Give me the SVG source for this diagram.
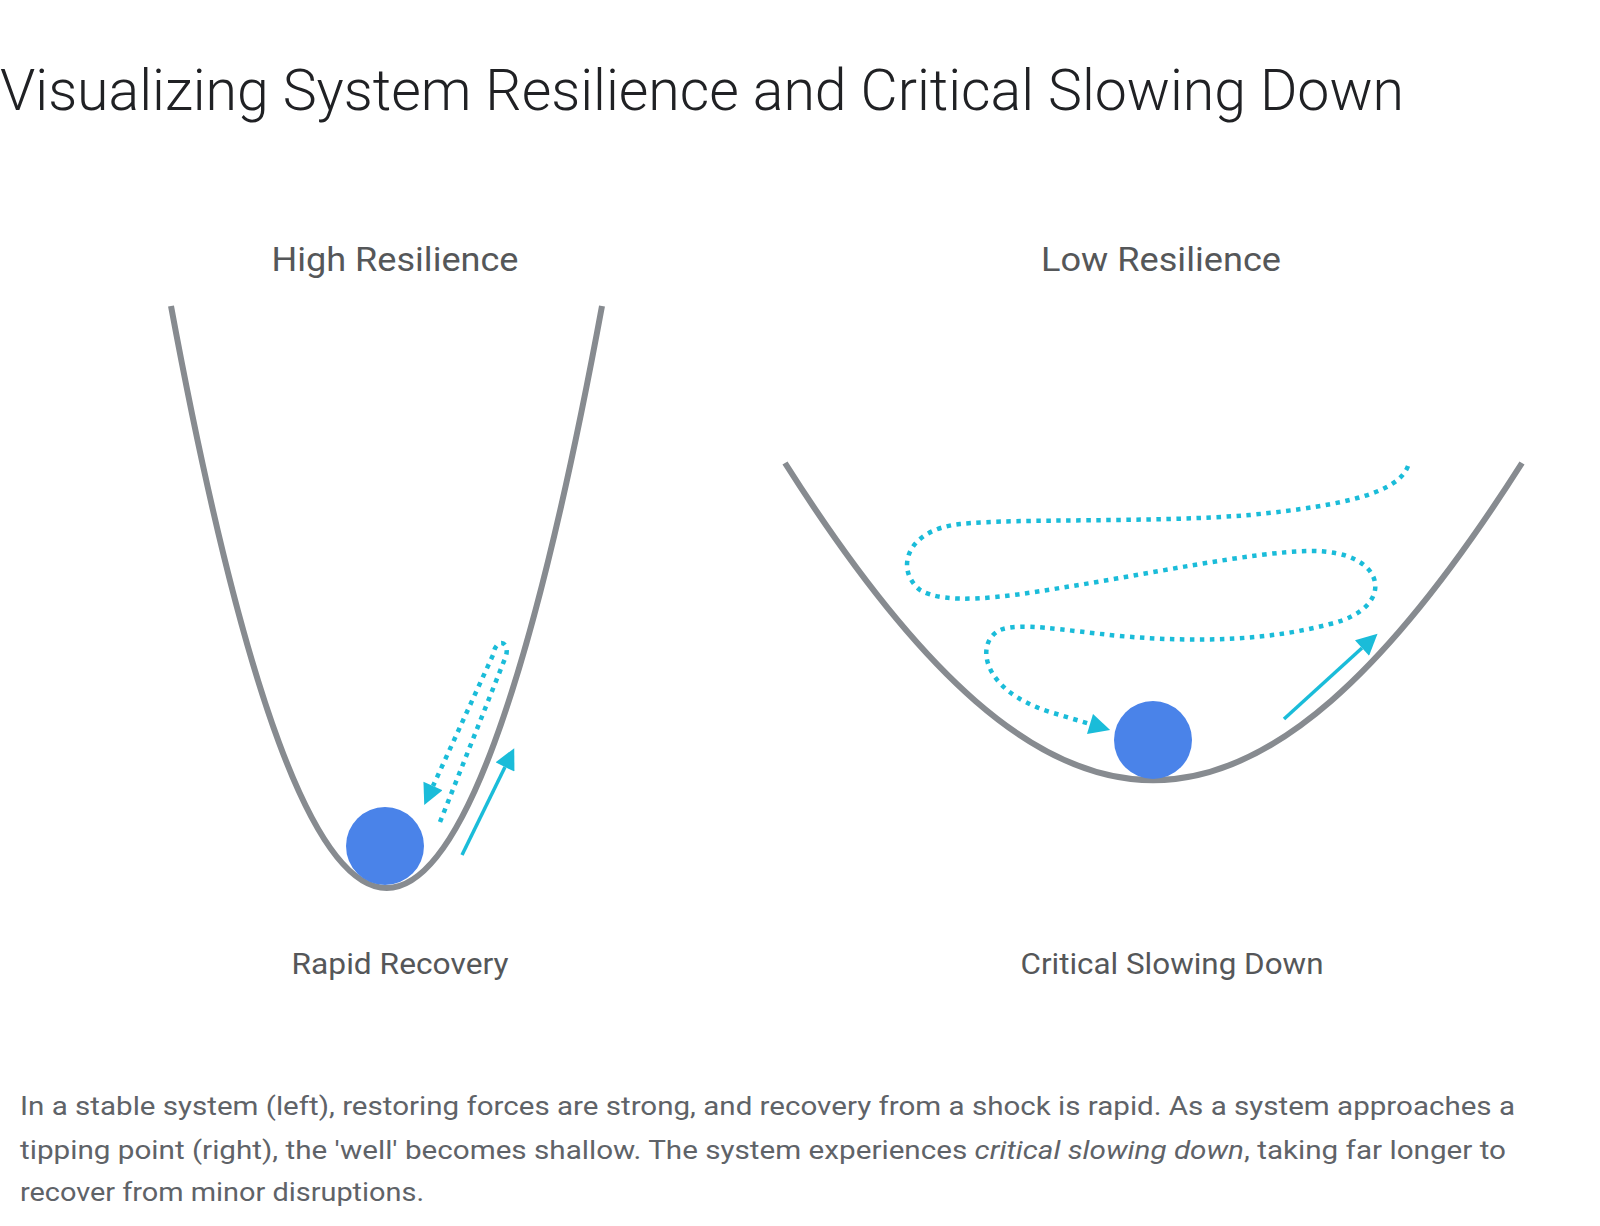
<svg xmlns="http://www.w3.org/2000/svg" width="1600" height="1226" viewBox="0 0 1600 1226">
  <style>
    .title { font-family: "Roboto", "Liberation Sans", sans-serif; font-size: 58px; font-weight: 300; fill: #202124; }
    .label { font-family: "Roboto", "Liberation Sans", sans-serif; font-size: 33px; fill: #555759; text-anchor: middle; }
    .sub { font-family: "Roboto", "Liberation Sans", sans-serif; font-size: 29px; fill: #555759; text-anchor: middle; }
    .caption { font-family: "Roboto", "Liberation Sans", sans-serif; font-size: 26px; fill: #5f6368; }
    .well { fill: none; stroke: #878b90; stroke-width: 6; stroke-linecap: butt; }
    .ball { fill: #4a83e9; }
    .dotted { fill: none; stroke: #1abcd9; stroke-width: 4.5; stroke-dasharray: 4.5 5.5; }
    .solid { fill: none; stroke: #1abcd9; stroke-width: 3.5; }
  </style>
  <defs>
    <marker id="arrow" viewBox="0 0 10 10" refX="0" refY="5" markerUnits="userSpaceOnUse" markerWidth="23" markerHeight="21" orient="auto">
      <path d="M0,0 L10,5 L0,10 z" fill="#1abcd9"/>
    </marker>
  </defs>
  <rect width="1600" height="1226" fill="#ffffff"/>

  <g id="title">
    <text class="title" x="0" y="110" textLength="1404" lengthAdjust="spacingAndGlyphs">Visualizing System Resilience and Critical Slowing Down</text>
  </g>

  <g id="high-resilience">
    <text class="label" x="395" y="271" textLength="247" lengthAdjust="spacingAndGlyphs">High Resilience</text>
    <path id="well-left" class="well" d="M171,306 Q387,1470 602,306"/>
    <circle id="ball-left" class="ball" cx="385" cy="846" r="39"/>
    <text class="sub" x="400" y="974" textLength="217" lengthAdjust="spacingAndGlyphs">Rapid Recovery</text>
  </g>

  <g id="low-resilience">
    <text class="label" x="1161" y="271" textLength="240" lengthAdjust="spacingAndGlyphs">Low Resilience</text>
    <path id="well-right" class="well" d="M785,463 C1053,886 1253,886 1522,463"/>
    <circle id="ball-right" class="ball" cx="1153" cy="740" r="39"/>
    <text class="sub" x="1172" y="974" textLength="303" lengthAdjust="spacingAndGlyphs">Critical Slowing Down</text>
  </g>

  <g id="connectors">
    <path class="dotted" d="M440,822 L506,656 C510,641 496,637 493,655 L433,786" marker-end="url(#arrow)"/>
    <line class="solid" x1="462" y1="855" x2="505" y2="767" marker-end="url(#arrow)"/>
    <path class="dotted" d="M1408,466 C1398,492 1350,505 1250,515 C1150,523 1020,518 960,524 C905,530 895,570 920,590 C945,605 1000,598 1060,588 C1150,574 1250,552 1310,551 C1388,550 1398,608 1330,624 C1270,640 1200,643 1120,636 C1060,630 1020,622 1000,630 C975,642 980,690 1050,712 L1090,724" marker-end="url(#arrow)"/>
    <line class="solid" x1="1284" y1="719" x2="1362" y2="648" marker-end="url(#arrow)"/>
  </g>

  <g id="caption">
    <text class="caption" x="20" y="1115" textLength="1495" lengthAdjust="spacingAndGlyphs">In a stable system (left), restoring forces are strong, and recovery from a shock is rapid. As a system approaches a</text>
    <text class="caption" x="20" y="1159" textLength="1486" lengthAdjust="spacingAndGlyphs">tipping point (right), the 'well' becomes shallow. The system experiences <tspan font-style="italic">critical slowing down</tspan>, taking far longer to</text>
    <text class="caption" x="20" y="1201" textLength="404" lengthAdjust="spacingAndGlyphs">recover from minor disruptions.</text>
  </g>
</svg>
